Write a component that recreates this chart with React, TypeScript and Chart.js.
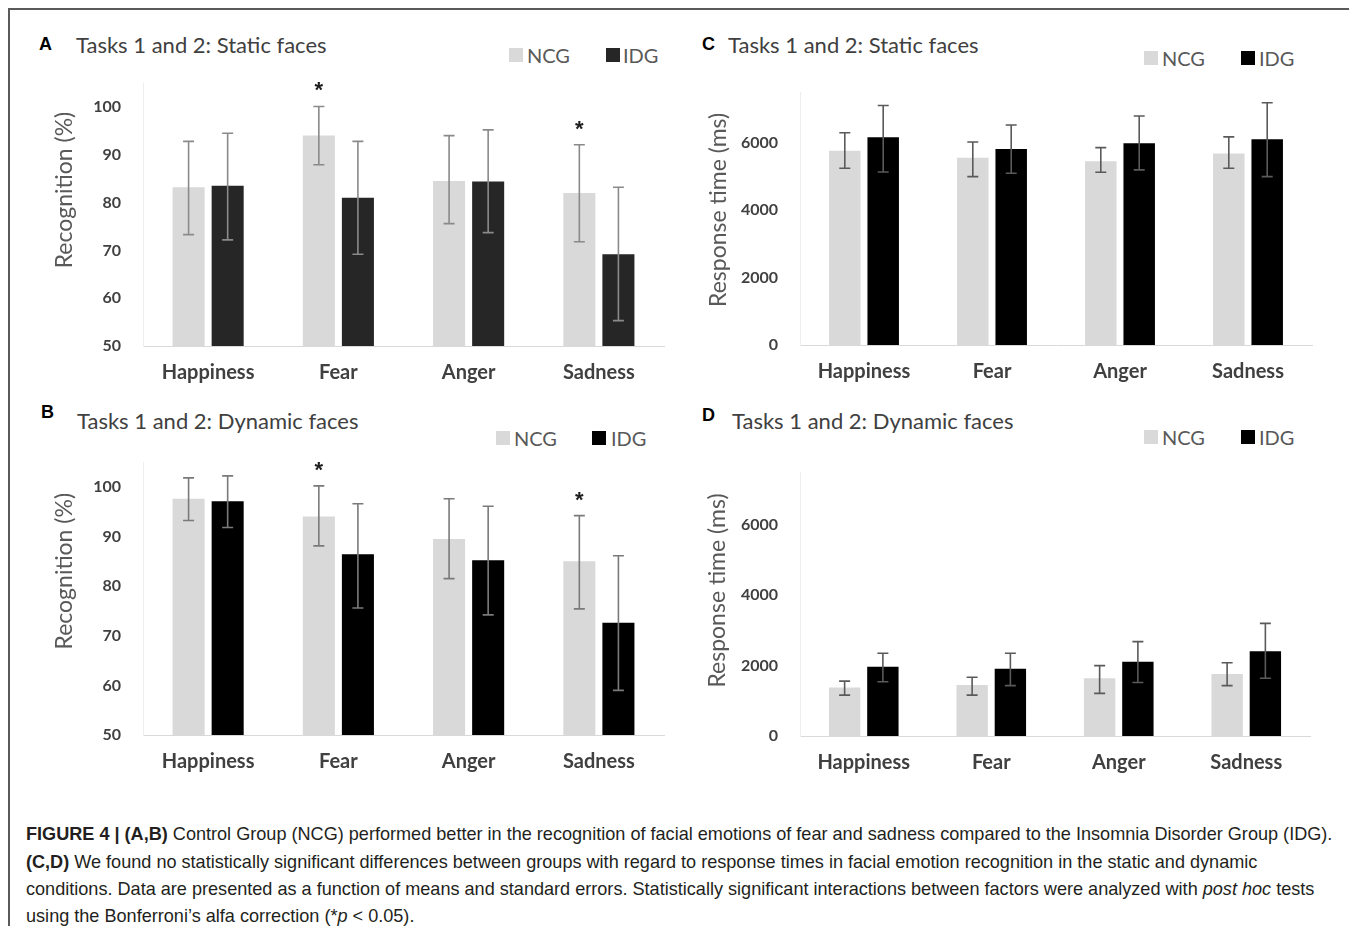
import React, { useEffect, useRef } from 'react';
import { Chart, registerables } from 'chart.js';

Chart.register(...registerables);

// ---------- data ----------
const categories = ['Happiness', 'Fear', 'Anger', 'Sadness'];
const groupNames = ['NCG', 'IDG'];

const recognitionTicks = [50, 60, 70, 80, 90, 100];
const responseTicks = [0, 2000, 4000, 6000];

// A: static faces, recognition (%)
const staticRecNCG = [83.2, 94.0, 84.5, 82.0];
const staticRecNCGLow = [73.3, 87.9, 75.6, 71.8];
const staticRecNCGHigh = [92.8, 100.1, 94.0, 92.1];
const staticRecIDG = [83.5, 81.0, 84.4, 69.2];
const staticRecIDGLow = [72.2, 69.2, 73.7, 55.3];
const staticRecIDGHigh = [94.5, 92.8, 95.2, 83.2];
const staticRecSignificant = [false, true, false, true];

// B: dynamic faces, recognition (%)
const dynamicRecNCG = [97.6, 94.0, 89.5, 85.0];
const dynamicRecNCGLow = [93.2, 88.1, 81.5, 75.4];
const dynamicRecNCGHigh = [101.8, 100.2, 97.6, 94.2];
const dynamicRecIDG = [97.1, 86.4, 85.2, 72.6];
const dynamicRecIDGLow = [91.8, 75.6, 74.2, 59.0];
const dynamicRecIDGHigh = [102.2, 96.6, 96.1, 86.1];
const dynamicRecSignificant = [false, true, false, true];

// C: static faces, response time (ms)
const staticRtNCG = [5760, 5550, 5450, 5680];
const staticRtNCGLow = [5240, 4990, 5120, 5240];
const staticRtNCGHigh = [6290, 6020, 5850, 6170];
const staticRtIDG = [6160, 5810, 5980, 6100];
const staticRtIDGLow = [5130, 5090, 5190, 4990];
const staticRtIDGHigh = [7100, 6520, 6790, 7180];

// D: dynamic faces, response time (ms)
const dynamicRtNCG = [1380, 1450, 1640, 1760];
const dynamicRtNCGLow = [1160, 1160, 1210, 1430];
const dynamicRtNCGHigh = [1560, 1670, 2000, 2080];
const dynamicRtIDG = [1970, 1910, 2110, 2410];
const dynamicRtIDGLow = [1540, 1430, 1520, 1640];
const dynamicRtIDGHigh = [2350, 2350, 2680, 3200];

const noSignificance = [false, false, false, false];

// ---------- plugins ----------
const errorBarPlugin = {
  id: 'errorBars',
  afterDatasetsDraw(chart: any, _args: any, opts: any) {
    const { ctx } = chart;
    const yScale = chart.scales.y;
    chart.data.datasets.forEach((ds: any, di: number) => {
      const meta = chart.getDatasetMeta(di);
      meta.data.forEach((bar: any, i: number) => {
        const x = bar.x;
        const yl = yScale.getPixelForValue(ds.errLow[i]);
        const yh = yScale.getPixelForValue(ds.errHigh[i]);
        const c = opts.cap / 2;
        ctx.save();
        ctx.strokeStyle = opts.color;
        ctx.lineWidth = opts.width;
        ctx.beginPath();
        ctx.moveTo(x, yl);
        ctx.lineTo(x, yh);
        ctx.moveTo(x - c, yh);
        ctx.lineTo(x + c, yh);
        ctx.moveTo(x - c, yl);
        ctx.lineTo(x + c, yl);
        ctx.stroke();
        ctx.restore();
      });
    });
  },
};

const starPlugin = {
  id: 'stars',
  afterDatasetsDraw(chart: any) {
    const { ctx } = chart;
    const yScale = chart.scales.y;
    chart.data.datasets.forEach((ds: any, di: number) => {
      if (!ds.significant) return;
      const meta = chart.getDatasetMeta(di);
      meta.data.forEach((bar: any, i: number) => {
        if (!ds.significant[i]) return;
        const yh = yScale.getPixelForValue(ds.errHigh[i]);
        ctx.save();
        ctx.fillStyle = '#1e1e1e';
        ctx.font = 'bold 22px "Liberation Sans", Arial, sans-serif';
        ctx.textAlign = 'center';
        ctx.textBaseline = 'alphabetic';
        ctx.fillText('*', bar.x, yh - 9);
        ctx.restore();
      });
    });
  },
};

const yTitlePlugin = {
  id: 'yTitle',
  afterDraw(chart: any, _args: any, opts: any) {
    const { ctx, chartArea } = chart;
    ctx.save();
    ctx.translate(chartArea.left - opts.dx, chartArea.top + opts.fy * (chartArea.bottom - chartArea.top));
    ctx.rotate(-Math.PI / 2);
    ctx.font = '23px Lato, sans-serif';
    ctx.fillStyle = '#595959';
    ctx.textAlign = 'center';
    ctx.textBaseline = 'middle';
    ctx.fillText(opts.text, 0, 0);
    ctx.restore();
  },
};

// ---------- chart panel ----------
type PanelProps = {
  left: number; top: number; width: number; height: number;
  padTop: number; padRight: number; yWidth: number; xHeight: number;
  ncg: number[]; ncgLow: number[]; ncgHigh: number[];
  idg: number[]; idgLow: number[]; idgHigh: number[];
  significant: boolean[];
  yMin: number; yMax: number; yTicks: number[];
  yTitle: string; titleDx: number; titleFy: number;
  idgColor: string; errColor: string;
};

function BarPanel(p: PanelProps) {
  const ref = useRef<HTMLCanvasElement | null>(null);
  useEffect(() => {
    if (!ref.current) return;
    const chart = new Chart(ref.current, {
      type: 'bar',
      data: {
        labels: categories,
        datasets: [
          {
            label: groupNames[0],
            data: p.ncg,
            backgroundColor: '#d9d9d9',
            errLow: p.ncgLow,
            errHigh: p.ncgHigh,
            significant: p.significant,
          } as any,
          {
            label: groupNames[1],
            data: p.idg,
            backgroundColor: p.idgColor,
            errLow: p.idgLow,
            errHigh: p.idgHigh,
          } as any,
        ],
      },
      options: {
        responsive: false,
        animation: false,
        devicePixelRatio: 1,
        datasets: { bar: { categoryPercentage: 0.6, barPercentage: 0.82 } },
        layout: { padding: { top: p.padTop, right: p.padRight, left: 0, bottom: 0 } },
        plugins: {
          legend: { display: false },
          tooltip: { enabled: false },
          title: { display: false },
          errorBars: { color: p.errColor, width: 1.6, cap: 11 },
          yTitle: { text: p.yTitle, dx: p.titleDx, fy: p.titleFy },
        } as any,
        scales: {
          x: {
            grid: { display: false, drawTicks: false },
            border: { display: true, color: '#d9d9d9', width: 1 },
            ticks: {
              padding: 15,
              color: '#404040',
              font: { family: 'Lato', size: 20, weight: 'bold' },
            },
            afterFit(scale: any) {
              scale.height = p.xHeight;
              scale.paddingLeft = 0;
              scale.paddingRight = 0;
            },
          },
          y: {
            min: p.yMin,
            max: p.yMax,
            grid: { display: false, drawTicks: false },
            border: { display: true, color: '#eeeeee', width: 1 },
            ticks: {
              padding: 22,
              color: '#404040',
              font: { family: 'Lato', size: 16, weight: 'bold' },
              callback: (v: any) => String(v),
            },
            afterBuildTicks(scale: any) {
              scale.ticks = p.yTicks.map((v) => ({ value: v }));
            },
            afterFit(scale: any) {
              scale.width = p.yWidth;
              scale.paddingTop = 0;
              scale.paddingBottom = 0;
            },
          },
        },
      },
      plugins: [errorBarPlugin, starPlugin, yTitlePlugin],
    });
    return () => chart.destroy();
  }, []);
  return (
    <canvas
      ref={ref}
      width={p.width}
      height={p.height}
      style={{ position: 'absolute', left: p.left - 8, top: p.top - 8, width: p.width, height: p.height }}
    />
  );
}

// ---------- text helpers ----------
function Txt({ x, y, lh = 26, children, style }: any) {
  return (
    <div
      style={{
        position: 'absolute', left: x - 8, top: y - 8 - lh / 2, height: lh,
        whiteSpace: 'nowrap', lineHeight: lh + 'px', ...style,
      }}
    >
      {children}
    </div>
  );
}

const letterStyle = { fontFamily: '"Liberation Sans", Arial, sans-serif', fontWeight: 'bold', fontSize: 18, color: '#000' };
const titleStyle = { fontFamily: 'Lato, sans-serif', fontSize: 22, color: '#404040' };
const legendTextStyle = { fontFamily: 'Lato, sans-serif', fontSize: 20, color: '#595959' };

function Legend({ x1, t1, x2, t2, y, idgColor }: any) {
  return (
    <>
      <div style={{ position: 'absolute', left: x1 - 8, top: y - 8 - 7, width: 14, height: 14, background: '#d9d9d9' }} />
      <Txt x={t1} y={y} style={legendTextStyle}>{groupNames[0]}</Txt>
      <div style={{ position: 'absolute', left: x2 - 8, top: y - 8 - 7, width: 14, height: 14, background: idgColor }} />
      <Txt x={t2} y={y} style={legendTextStyle}>{groupNames[1]}</Txt>
    </>
  );
}

const captionStyle = {
  fontFamily: '"Liberation Sans", Arial, Helvetica, sans-serif',
  fontSize: 18.1,
  color: '#231f20',
};

export default function App() {
  useEffect(() => {
    document.body.style.overflow = 'hidden';
  }, []);
  return (
    <div style={{ position: 'relative', width: 1341, height: 918, background: '#fff' }}>
      <div
        style={{
          position: 'absolute', left: 0, top: 0, width: 1346, height: 918, boxSizing: 'border-box',
          borderTop: '2px solid #5a5a5a', borderLeft: '2px solid #5a5a5a', borderRight: '2px solid #5a5a5a',
        }}
      />

      {/* Panel A */}
      <Txt x={39} y={44} style={letterStyle}>A</Txt>
      <Txt x={76} y={45} style={titleStyle}>Tasks 1 and 2: Static faces</Txt>
      <Legend x1={509} t1={527} x2={606} t2={623} y={55} idgColor="#262626" />
      <BarPanel
        left={30} top={60} width={650} height={330} padTop={23} padRight={16} yWidth={113} xHeight={44}
        ncg={staticRecNCG} ncgLow={staticRecNCGLow} ncgHigh={staticRecNCGHigh}
        idg={staticRecIDG} idgLow={staticRecIDGLow} idgHigh={staticRecIDGHigh}
        significant={staticRecSignificant}
        yMin={50} yMax={105} yTicks={recognitionTicks}
        yTitle="Recognition (%)" titleDx={78} titleFy={0.407}
        idgColor="#262626" errColor="#8a8a8a"
      />

      {/* Panel B */}
      <Txt x={41} y={412} style={letterStyle}>B</Txt>
      <Txt x={77} y={421} style={titleStyle}>Tasks 1 and 2: Dynamic faces</Txt>
      <Legend x1={496} t1={514} x2={592} t2={611} y={438} idgColor="#000000" />
      <BarPanel
        left={30} top={440} width={650} height={339} padTop={22} padRight={16} yWidth={113} xHeight={44}
        ncg={dynamicRecNCG} ncgLow={dynamicRecNCGLow} ncgHigh={dynamicRecNCGHigh}
        idg={dynamicRecIDG} idgLow={dynamicRecIDGLow} idgHigh={dynamicRecIDGHigh}
        significant={dynamicRecSignificant}
        yMin={50} yMax={105} yTicks={recognitionTicks}
        yTitle="Recognition (%)" titleDx={78} titleFy={0.40}
        idgColor="#000000" errColor="#7a7a7a"
      />

      {/* Panel C */}
      <Txt x={702} y={44} style={letterStyle}>C</Txt>
      <Txt x={728} y={45} style={titleStyle}>Tasks 1 and 2: Static faces</Txt>
      <Legend x1={1144} t1={1162} x2={1241} t2={1259} y={58} idgColor="#000000" />
      <BarPanel
        left={690} top={60} width={640} height={329} padTop={32} padRight={18} yWidth={110} xHeight={44}
        ncg={staticRtNCG} ncgLow={staticRtNCGLow} ncgHigh={staticRtNCGHigh}
        idg={staticRtIDG} idgLow={staticRtIDGLow} idgHigh={staticRtIDGHigh}
        significant={noSignificance}
        yMin={0} yMax={7500} yTicks={responseTicks}
        yTitle="Response time (ms)" titleDx={81} titleFy={0.466}
        idgColor="#000000" errColor="#5a5a5a"
      />

      {/* Panel D */}
      <Txt x={702} y={415} style={letterStyle}>D</Txt>
      <Txt x={732} y={421} style={titleStyle}>Tasks 1 and 2: Dynamic faces</Txt>
      <Legend x1={1144} t1={1162} x2={1241} t2={1259} y={437} idgColor="#000000" />
      <BarPanel
        left={690} top={440} width={640} height={340} padTop={32} padRight={20} yWidth={110} xHeight={44}
        ncg={dynamicRtNCG} ncgLow={dynamicRtNCGLow} ncgHigh={dynamicRtNCGHigh}
        idg={dynamicRtIDG} idgLow={dynamicRtIDGLow} idgHigh={dynamicRtIDGHigh}
        significant={noSignificance}
        yMin={0} yMax={7500} yTicks={responseTicks}
        yTitle="Response time (ms)" titleDx={82} titleFy={0.449}
        idgColor="#000000" errColor="#5a5a5a"
      />

      {/* Caption */}
      <Txt x={26} y={834} lh={20} style={captionStyle}>
        <b>FIGURE 4 | (A,B)</b> Control Group (NCG) performed better in the recognition of facial emotions of fear and sadness compared to the Insomnia Disorder Group (IDG).
      </Txt>
      <Txt x={26} y={862} lh={20} style={captionStyle}>
        <b>(C,D)</b> We found no statistically significant differences between groups with regard to response times in facial emotion recognition in the static and dynamic
      </Txt>
      <Txt x={26} y={889} lh={20} style={captionStyle}>
        conditions. Data are presented as a function of means and standard errors. Statistically significant interactions between factors were analyzed with <i>post hoc</i> tests
      </Txt>
      <Txt x={26} y={916} lh={20} style={captionStyle}>
        using the Bonferroni’s alfa correction (*<i>p</i> &lt; 0.05).
      </Txt>
    </div>
  );
}
